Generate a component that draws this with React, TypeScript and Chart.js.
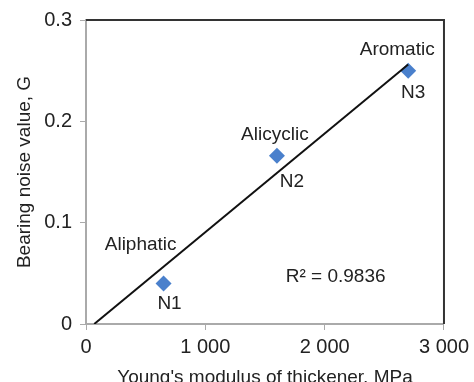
import React, { useEffect, useRef } from "react";
import { Chart, registerables } from "chart.js";

Chart.register(...registerables);

// Data
const samples = ["N1", "N2", "N3"];
const youngsModulus = [650, 1600, 2700];
const noiseValue = [0.04, 0.166, 0.25];

// Trend line endpoints (as drawn in the reference)
const trendX = [69, 2700];
const trendY = [0, 0.256];

const xTickValues = [0, 1000, 2000, 3000];
const xTickLabels = ["0", "1 000", "2 000", "3 000"];
const yTickValues = [0, 0.1, 0.2, 0.3];
const yTickLabels = ["0", "0.1", "0.2", "0.3"];

// Annotation texts and their anchor positions in data units
const annotationTexts = ["Aliphatic", "N1", "Alicyclic", "N2", "Aromatic", "N3", "R\u00B2 = 0.9836"];
const annotationX = [458, 700, 1583, 1725, 2608, 2742, 2092];
const annotationY = [0.078, 0.0196, 0.187, 0.14, 0.2706, 0.2284, 0.047];

const FONT = "'Liberation Sans', Arial, sans-serif";

const labelPlugin = {
  id: "annotLabels",
  afterDatasetsDraw(chart: any) {
    const { ctx, scales } = chart;
    ctx.save();
    ctx.fillStyle = "#222";
    ctx.font = `19px ${FONT}`;
    ctx.textAlign = "center";
    ctx.textBaseline = "middle";
    annotationTexts.forEach((t, i) => {
      ctx.fillText(t, scales.x.getPixelForValue(annotationX[i]), scales.y.getPixelForValue(annotationY[i]));
    });
    ctx.restore();
  },
};

const framePlugin = {
  id: "frame",
  afterDraw(chart: any) {
    const { ctx, chartArea } = chart;
    ctx.save();
    ctx.strokeStyle = "#333";
    ctx.lineWidth = 2;
    ctx.beginPath();
    ctx.moveTo(chartArea.left, chartArea.top);
    ctx.lineTo(chartArea.right, chartArea.top);
    ctx.lineTo(chartArea.right, chartArea.bottom);
    ctx.stroke();
    ctx.restore();
  },
};

export default function App() {
  const ref = useRef<HTMLCanvasElement>(null);
  useEffect(() => {
    document.body.style.margin = "0";
    document.body.style.overflow = "hidden";
    document.documentElement.style.overflow = "hidden";
    const chart = new Chart(ref.current as HTMLCanvasElement, {
      type: "scatter",
      data: {
        datasets: [
          {
            type: "line",
            label: "Trend",
            data: trendX.map((x, i) => ({ x, y: trendY[i] })),
            borderColor: "#111",
            borderWidth: 2,
            pointRadius: 0,
            fill: false,
            order: 0,
          } as any,
          {
            label: "Samples",
            data: youngsModulus.map((x, i) => ({ x, y: noiseValue[i] })),
            pointStyle: "rectRot",
            pointRadius: 8,
            backgroundColor: "#4a80cc",
            borderColor: "#4a80cc",
            borderWidth: 0,
            order: 1,
          },
        ],
      },
      options: {
        animation: false,
        responsive: false,
        layout: { padding: { left: 0, top: 18, right: 28, bottom: 0 } },
        plugins: { legend: { display: false }, tooltip: { enabled: false } },
        scales: {
          x: {
            type: "linear",
            min: 0,
            max: 3000,
            afterBuildTicks: (s: any) => {
              s.ticks = xTickValues.map((v) => ({ value: v }));
            },
            afterFit: (s: any) => {
              s.height = 65;
            },
            ticks: {
              callback: (v: any) => xTickLabels[xTickValues.indexOf(Number(v))] ?? "",
              font: { family: FONT, size: 20 },
              color: "#222",
              padding: 5,
              maxRotation: 0,
            },
            grid: { drawOnChartArea: false, drawTicks: true, tickLength: 6, tickColor: "#aaa" },
            border: { color: "#aaa", width: 2 },
            title: {
              display: true,
              text: "Young's modulus of thickener, MPa",
              font: { family: FONT, size: 19 },
              color: "#222",
              padding: { top: 0, bottom: 0 },
            },
          },
          y: {
            type: "linear",
            min: 0,
            max: 0.3,
            afterBuildTicks: (s: any) => {
              s.ticks = yTickValues.map((v) => ({ value: v }));
            },
            afterFit: (s: any) => {
              s.width = 86;
            },
            ticks: {
              callback: (v: any) => {
                const idx = yTickValues.findIndex((t) => Math.abs(t - Number(v)) < 1e-9);
                return idx >= 0 ? yTickLabels[idx] : "";
              },
              font: { family: FONT, size: 20 },
              color: "#222",
              padding: 8,
            },
            grid: { drawOnChartArea: false, drawTicks: true, tickLength: 6, tickColor: "#aaa" },
            border: { color: "#aaa", width: 2 },
            title: {
              display: true,
              text: "Bearing noise value, G",
              font: { family: FONT, size: 19 },
              color: "#222",
              padding: { top: 13.6, bottom: 0 },
            },
          },
        },
      },
      plugins: [labelPlugin, framePlugin],
    });
    return () => chart.destroy();
  }, []);
  return <canvas ref={ref} width={474} height={389} style={{ display: "block" }} />;
}
